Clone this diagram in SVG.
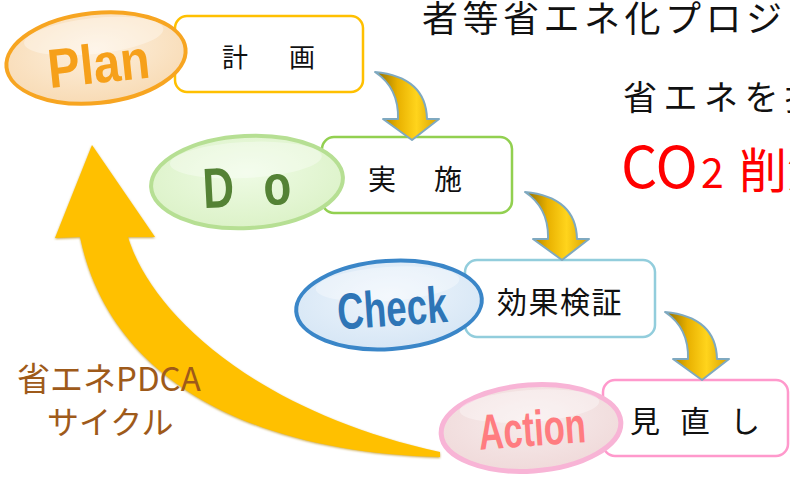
<svg xmlns="http://www.w3.org/2000/svg" width="790" height="477" viewBox="0 0 790 477">
<style>
.jp{font-family:"Noto Sans CJK JP","Noto Sans",sans-serif;fill:#111}
.lat{font-family:"Liberation Sans",Arial,sans-serif;font-weight:700}
.box{fill:#fff;stroke-width:2.5}
.ell{stroke-width:4}
.sa{stroke:#7fa9c0;stroke-width:2;stroke-linejoin:round}
</style>
<defs>
<linearGradient id="gold" x1="0" y1="0" x2="1" y2="0">
<stop offset="0" stop-color="#8a6a00"/>
<stop offset="0.35" stop-color="#e8b000"/>
<stop offset="0.65" stop-color="#ffd41c"/>
<stop offset="1" stop-color="#d9a000"/>
</linearGradient>
<radialGradient id="gPlan" cx="50%" cy="40%" r="60%"><stop offset="0" stop-color="#fdf0de"/><stop offset="1" stop-color="#f8dbb5"/></radialGradient>
<radialGradient id="gDo" cx="50%" cy="40%" r="60%"><stop offset="0" stop-color="#eefbe4"/><stop offset="1" stop-color="#dcf2c8"/></radialGradient>
<radialGradient id="gCheck" cx="50%" cy="40%" r="60%"><stop offset="0" stop-color="#eef5fc"/><stop offset="1" stop-color="#d6e6f5"/></radialGradient>
<radialGradient id="gAct" cx="50%" cy="40%" r="60%"><stop offset="0" stop-color="#f7ecec"/><stop offset="1" stop-color="#f0dada"/></radialGradient>
<path id="sarrow" d="M0,0 L-29,-21 L-14,-21 Q-13,-52 -37,-68 Q14,-63 15,-21 L27,-21 Z"/>
<filter id="soft" x="-10%" y="-10%" width="120%" height="120%"><feGaussianBlur stdDeviation="1"/></filter>
</defs>

<!-- right-side text -->
<g id="headline">
<text class="jp" x="422" y="32" font-size="36" letter-spacing="4.5">者等省エネ化プロジェ</text>
<text class="jp" x="623" y="110" font-size="34" letter-spacing="6.5">省エネを推</text>
<text x="621" y="188" font-family="Noto Sans CJK JP,Noto Sans,sans-serif" font-size="57" fill="#ff0000">CO<tspan x="701" font-size="41">2</tspan><tspan x="739" font-size="48">削減</tspan></text>
</g>

<!-- big cycle arrow -->
<g id="cycle-arrow">
<path d="M92,145 L155,237 L128,237 C150,310 250,410 440,452 L440,457 C250,452 110,380 80,237 L55,238 Z" fill="#c9a64a" filter="url(#soft)" transform="translate(0,1)"/>
<path d="M92,145 L155,237 L128,237 C150,310 250,410 440,452 L440,457 C250,452 110,380 80,237 L55,238 Z" fill="#ffc000"/>
</g>
<g id="cycle-label">
<text x="17" y="391" font-family="Noto Sans CJK JP,Noto Sans,sans-serif" font-size="33" fill="#9e5a1a">省エネPDCA</text>
<text x="47" y="434" font-family="Noto Sans CJK JP,Noto Sans,sans-serif" font-size="32" fill="#9e5a1a">サイクル</text>
</g>

<!-- Plan -->
<g id="plan">
<rect class="box" x="175" y="16" width="188" height="76" rx="12" stroke="#ffc000"/>
<text class="jp" x="222" y="67" font-size="26" letter-spacing="7.5">計　画</text>
<g transform="rotate(-6 96 58)">
<ellipse class="ell" cx="96" cy="58" rx="90" ry="45" fill="url(#gPlan)" stroke="#f7a521"/>
<ellipse cx="96" cy="36" rx="70" ry="18" fill="#fff" opacity="0.35"/>
<text class="lat" transform="translate(98 83) scale(0.88 1)" text-anchor="middle" font-size="55" fill="#f6a01a">Plan</text>
</g>
</g>

<!-- Do -->
<g id="do">
<rect class="box" x="322" y="137" width="190" height="76" rx="12" stroke="#92d050"/>
<text class="jp" x="368" y="190" font-size="28" letter-spacing="5">実　施</text>
<g transform="rotate(-3 247 182)">
<ellipse class="ell" cx="247" cy="182" rx="96" ry="46" fill="url(#gDo)" stroke="#b6df93"/>
<ellipse cx="247" cy="160" rx="76" ry="18" fill="#fff" opacity="0.35"/>
<text class="lat" transform="translate(218 206) scale(0.76 1)" text-anchor="middle" font-size="57" fill="#548235">D</text>
<text class="lat" transform="translate(277 206) scale(0.8 1)" text-anchor="middle" font-size="57" fill="#548235">o</text>
</g>
</g>

<!-- Check -->
<g id="check">
<rect class="box" x="465" y="260" width="190" height="77" rx="12" stroke="#92cddc"/>
<text class="jp" x="497" y="313" font-size="30" letter-spacing="1.5">効果検証</text>
<g transform="rotate(-4 389 305)">
<ellipse class="ell" cx="389" cy="305" rx="93" ry="44" fill="url(#gCheck)" stroke="#3a86c8"/>
<ellipse cx="389" cy="284" rx="72" ry="17" fill="#fff" opacity="0.35"/>
<text class="lat" transform="translate(392 326) scale(0.72 1)" text-anchor="middle" font-size="51" fill="#2e75b6">Check</text>
</g>
</g>

<!-- Action -->
<g id="action">
<rect class="box" x="603" y="380" width="185" height="76" rx="12" stroke="#ff99cc"/>
<text class="jp" x="630" y="432" font-size="30" letter-spacing="20">見直し</text>
<g transform="rotate(-4 531 428)">
<ellipse cx="531" cy="428" rx="90" ry="43" fill="url(#gAct)" stroke="#f8b4d6" stroke-width="5"/>
<ellipse cx="531" cy="406" rx="70" ry="16" fill="#fff" opacity="0.35"/>
<text class="lat" transform="translate(532 446) scale(0.69 1)" text-anchor="middle" font-size="50" fill="#ff7c80">Action</text>
</g>
</g>

<!-- connectors -->
<g id="connectors">
<use href="#sarrow" transform="translate(412 140)" fill="url(#gold)" class="sa"/>
<use href="#sarrow" transform="translate(562 260)" fill="url(#gold)" class="sa"/>
<use href="#sarrow" transform="translate(702 380)" fill="url(#gold)" class="sa"/>
</g>
</svg>
